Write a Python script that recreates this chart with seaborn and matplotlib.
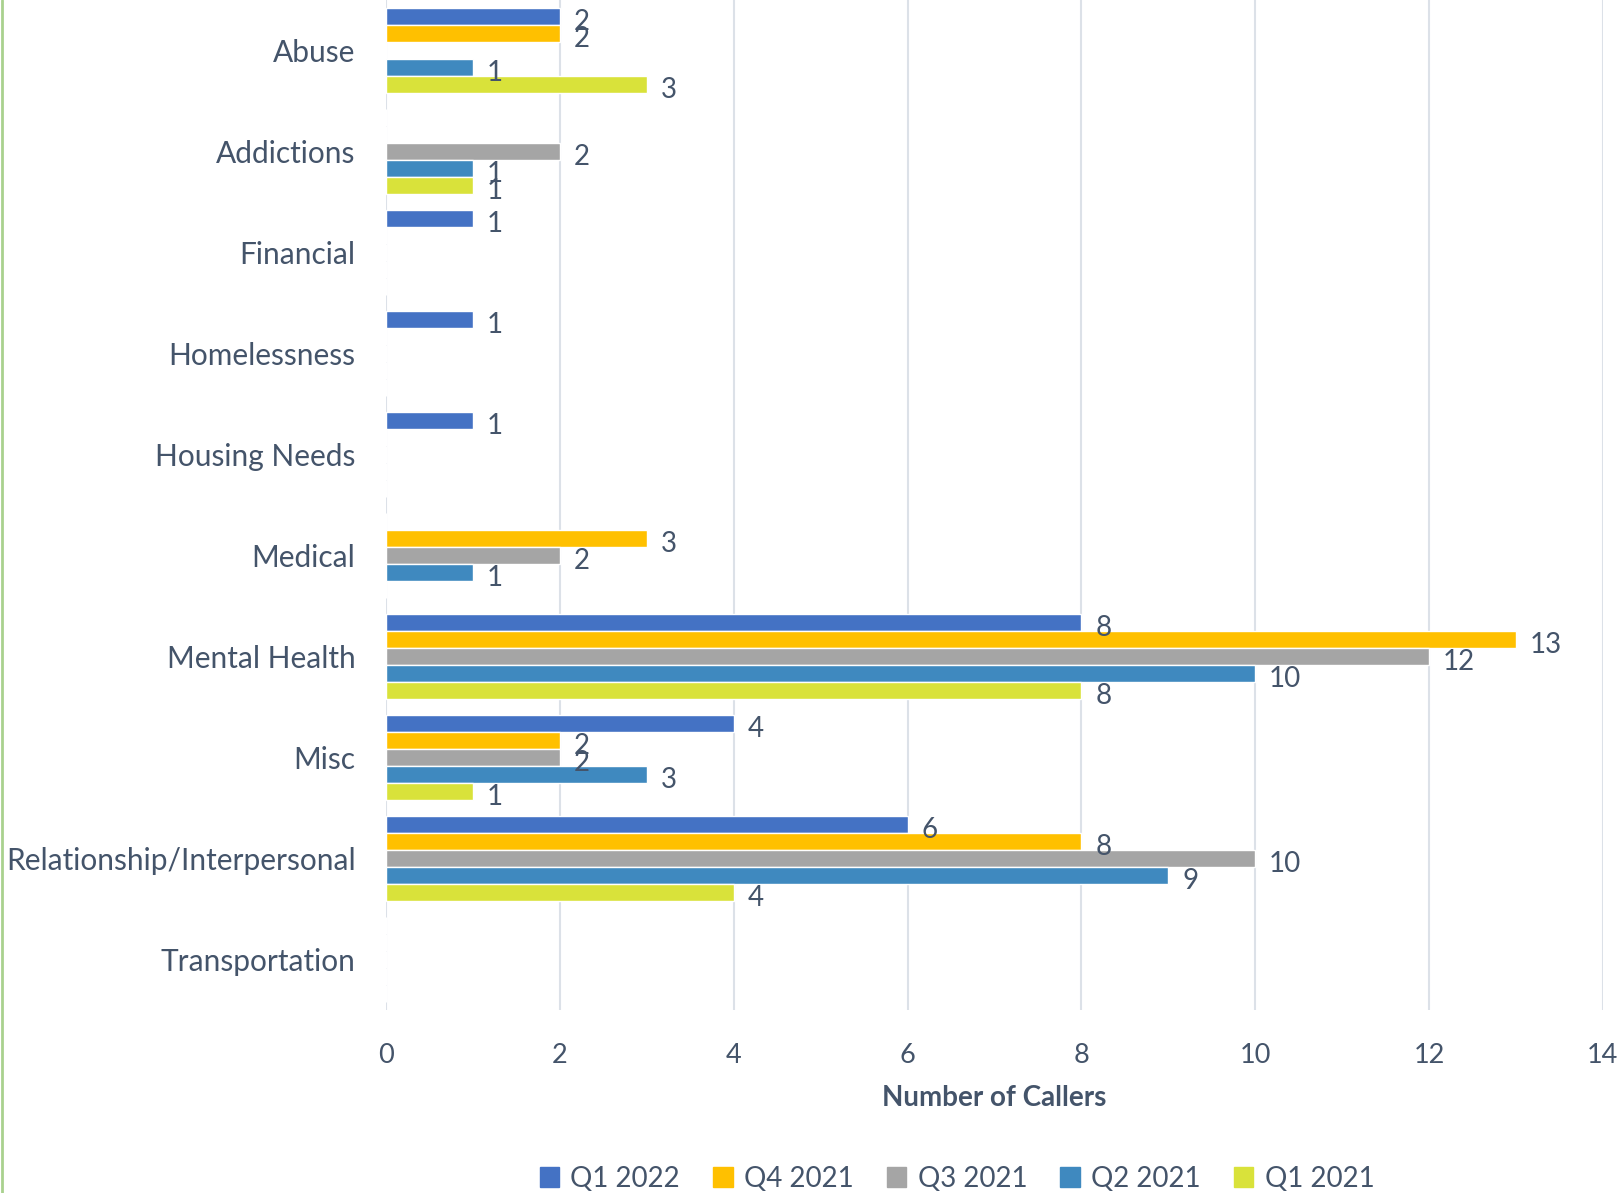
import pandas as pd
import matplotlib
matplotlib.use("Agg")
import matplotlib.pyplot as plt
from matplotlib.lines import Line2D
import seaborn as sns

# values (0 = no bar)
categories = ["Abuse", "Addictions", "Financial", "Homelessness", "Housing Needs",
              "Medical", "Mental Health", "Misc", "Relationship/Interpersonal",
              "Transportation"]
quarters = ["Q1 2022", "Q4 2021", "Q3 2021", "Q2 2021", "Q1 2021"]
q1_2022 = [2, 0, 1, 1, 1, 0, 8, 4, 6, 0]
q4_2021 = [2, 0, 0, 0, 0, 3, 13, 2, 8, 0]
q3_2021 = [0, 2, 0, 0, 0, 2, 12, 2, 10, 0]
q2_2021 = [1, 1, 0, 0, 0, 1, 10, 3, 9, 0]
q1_2021 = [3, 1, 0, 0, 0, 0, 8, 1, 4, 0]
colors = ["#4472C4", "#FFC000", "#A5A5A5", "#3F89BF", "#D9E23A"]
x_ticks = [0, 2, 4, 6, 8, 10, 12, 14]

series = [q1_2022, q4_2021, q3_2021, q2_2021, q1_2021]
df = pd.DataFrame({
    "Category": categories * len(quarters),
    "Quarter": [q for q in quarters for _ in categories],
    "Callers": [v for s in series for v in s],
})

sns.set_theme(style="white")
text_col = "#44546A"
plt.rcParams["font.family"] = ["Lato", "DejaVu Sans"]
plt.rcParams["text.color"] = text_col
plt.rcParams["axes.labelcolor"] = text_col
plt.rcParams["xtick.color"] = text_col
plt.rcParams["ytick.color"] = text_col

fig = plt.figure(figsize=(16.18, 11.93), dpi=100)
ax = fig.add_axes([0.2386, 0.1534, 0.7521, 0.8466])

sns.barplot(data=df, y="Category", x="Callers", hue="Quarter",
            order=categories, hue_order=quarters, palette=colors,
            orient="h", width=0.84, gap=0, saturation=1, errorbar=None,
            legend=False, ax=ax)

for cont in ax.containers:
    labels = [f"{int(v)}" if v > 0 else "" for v in cont.datavalues]
    texts = ax.bar_label(cont, labels=labels, padding=10, fontsize=20, color=text_col)
    # labels sit a little below the bar centre in the reference
    for t in texts:
        t.xyann = (10, -4)

ax.set_xlim(0, 14)
ax.set_xticks(x_ticks)
ax.set_ylim(len(categories) - 0.5, -0.5)
ax.grid(axis="x", color="#DCE1E8", linewidth=1.5)
ax.set_axisbelow(True)
for sp in ax.spines.values():
    sp.set_visible(False)
ax.tick_params(axis="y", length=0, pad=22, labelsize=21.5)
ax.tick_params(axis="x", length=0, pad=24, labelsize=19.5)
ax.set_ylabel("")
ax.set_xlabel("Number of Callers", fontsize=20, fontweight="bold", labelpad=12)

handles = [plt.Rectangle((0, 0), 1, 1, color=c) for c in colors]
fig.legend(handles, quarters, loc="center", bbox_to_anchor=(0.5915, 0.012),
           ncol=5, frameon=False, fontsize=20, handlelength=0.7,
           handleheight=0.7, columnspacing=1.2, handletextpad=0.4)

# thin green border at the left edge of the chart area
fig.add_artist(Line2D([0.001, 0.001], [0, 1], transform=fig.transFigure,
                      color="#A9D18E", linewidth=2))

fig.savefig("out.png", dpi=100)
